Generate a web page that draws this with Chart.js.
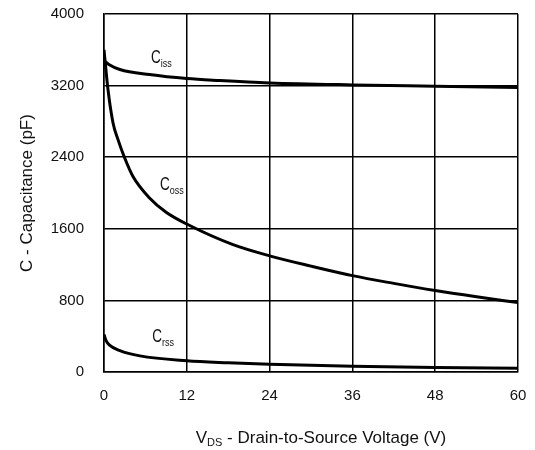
<!DOCTYPE html>
<html>
<head>
<meta charset="utf-8">
<script src="https://cdn.jsdelivr.net/npm/chart.js@4.4.0/dist/chart.umd.min.js"></script>
<style>
  html, body { margin: 0; padding: 0; background: #fff; }
  #wrap { width: 535px; height: 450px; }
</style>
</head>
<body>
<div id="wrap"><canvas id="capChart"></canvas></div>
<script>
'use strict';

// Input capacitance Ciss (pF) vs VDS (V)
const cissV  = [0, 0.7, 2.3, 6.6, 12, 16.8, 24, 36, 48, 60];
const cissPf = [3480, 3435, 3380, 3323, 3278, 3256, 3230, 3208, 3193, 3178];

// Output capacitance Coss
const cossV  = [0, 0.58, 1.31, 2.03, 3, 4.2, 6.6, 9, 12.2, 18.7, 24, 30, 36, 42, 48, 54, 60];
const cossPf = [3600, 3155, 2783, 2596, 2391, 2185, 1945, 1785, 1645, 1423, 1298, 1183, 1077, 990, 910, 840, 775];

// Reverse transfer capacitance Crss
const crssV  = [0, 0.3, 0.8, 2.3, 5.2, 12, 18, 24, 36, 48, 60];
const crssPf = [420, 350, 300, 238, 180, 126, 103, 86, 64, 49, 41];

const xTicks = [0, 12, 24, 36, 48, 60];
const yTicks = [0, 800, 1600, 2400, 3200, 4000];

// curve tags: subscript text and anchor (V, pF) of the big "C"
const labelSubs = ['iss', 'oss', 'rss'];
const labelV    = [6.8, 8.1, 7.0];
const labelPf   = [3456, 2036, 335];

const FONT = '"Liberation Sans", Arial, Helvetica, sans-serif';
const INK = '#111';

const toPoints = (xs, ys) => xs.map((v, i) => ({ x: v, y: ys[i] }));

const curveStyle = {
  borderColor: '#000',
  borderWidth: 3,
  pointRadius: 0,
  fill: false,
  cubicInterpolationMode: 'monotone'
};

const curveLabels = {
  id: 'curveLabels',
  afterDatasetsDraw(chart) {
    const { ctx, scales: { x, y }, chartArea } = chart;
    ctx.save();
    ctx.textBaseline = 'alphabetic';
    labelSubs.forEach((sub, i) => {
      const px = x.getPixelForValue(labelV[i]);
      const py = y.getPixelForValue(labelPf[i]);
      ctx.font = '18px ' + FONT;
      const cw = ctx.measureText('C').width * 0.75;
      ctx.font = '10px ' + FONT;
      const sw = ctx.measureText(sub).width * 0.9;
      // white box so grid lines break around the tag
      ctx.fillStyle = '#fff';
      ctx.fillRect(px - 2, py - 15, cw + sw + 4, 22);
      ctx.fillStyle = INK;
      ctx.font = '18px ' + FONT;
      ctx.save(); ctx.translate(px, py); ctx.scale(0.75, 1); ctx.fillText('C', 0, 0); ctx.restore();
      ctx.font = '10px ' + FONT;
      ctx.save(); ctx.translate(px + cw, py + 4); ctx.scale(0.9, 1); ctx.fillText(sub, 0, 0); ctx.restore();
    });

    // x axis title with subscript DS
    const big = '17px ' + FONT, small = '11px ' + FONT;
    const rest = ' - Drain-to-Source Voltage (V)';
    ctx.font = big;
    const wV = ctx.measureText('V').width;
    const wRest = ctx.measureText(rest).width;
    ctx.font = small;
    const wDS = ctx.measureText('DS').width;
    let tx = (chartArea.left + chartArea.right) / 2 + 10 - (wV + wDS + wRest) / 2;
    const ty = 443;
    ctx.fillStyle = INK;
    ctx.font = big;
    ctx.fillText('V', tx, ty);
    tx += wV;
    ctx.font = small;
    ctx.fillText('DS', tx, ty + 3);
    tx += wDS;
    ctx.font = big;
    ctx.fillText(rest, tx, ty);
    ctx.restore();
  }
};

new Chart(document.getElementById('capChart'), {
  type: 'line',
  data: {
    datasets: [
      Object.assign({ label: 'Ciss', data: toPoints(cissV, cissPf) }, curveStyle),
      Object.assign({ label: 'Coss', data: toPoints(cossV, cossPf) }, curveStyle),
      Object.assign({ label: 'Crss', data: toPoints(crssV, crssPf) }, curveStyle)
    ]
  },
  options: {
    responsive: true,
    maintainAspectRatio: false,
    animation: false,
    layout: { padding: { top: 14, right: 17, left: 0, bottom: 0 } },
    plugins: {
      legend: { display: false },
      tooltip: { enabled: false }
    },
    scales: {
      x: {
        type: 'linear',
        min: 0,
        max: 60,
        afterBuildTicks: (scale) => { scale.ticks = xTicks.map(v => ({ value: v })); },
        afterFit: (scale) => {
          scale.height = 78;
          scale.paddingLeft = 0;
          scale.paddingRight = 0;
        },
        grid: { color: '#000', lineWidth: 1.5, drawTicks: false },
        border: { color: '#000', width: 1.5 },
        ticks: {
          color: INK, font: { family: FONT, size: 15 }, padding: 15, maxRotation: 0,
          callback: (v) => String(v)
        }
      },
      y: {
        min: 0,
        max: 4000,
        afterBuildTicks: (scale) => { scale.ticks = yTicks.map(v => ({ value: v })); },
        afterFit: (scale) => {
          scale.width = 104;
          scale.paddingTop = 0;
          scale.paddingBottom = 0;
        },
        grid: { color: '#000', lineWidth: 1.5, drawTicks: false },
        border: { color: '#000', width: 1.5 },
        ticks: {
          color: INK, font: { family: FONT, size: 15 }, padding: 20,
          callback: (v) => String(v)
        },
        title: {
          display: true,
          text: 'C - Capacitance (pF)',
          color: INK,
          font: { family: FONT, size: 17 },
          padding: { top: 17, bottom: 0 }
        }
      }
    }
  },
  plugins: [curveLabels]
});
</script>
</body>
</html>
